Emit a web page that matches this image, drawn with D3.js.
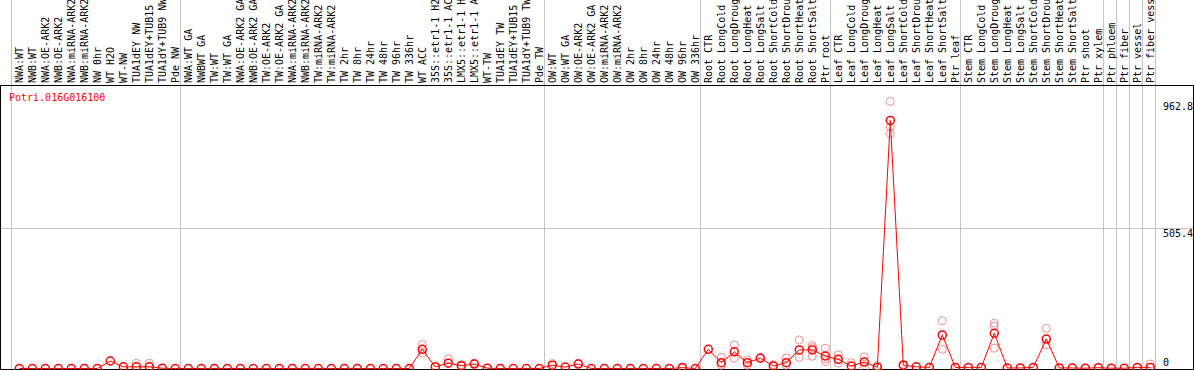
<!DOCTYPE html>
<html>
<head>
<meta charset="utf-8">
<script src="https://cdn.jsdelivr.net/npm/d3@7"></script>
<style>
  body { margin: 0; background: #fff; }
  svg text { font-family: "DejaVu Sans Mono", monospace; font-size: 10px; }
</style>
</head>
<body>
<div id="chart"></div>
<script>
var width = 1194, height = 370;

var geneName = "Potri.016G016100";

var samples = [
  "NWA:WT", "NWB:WT", "NWA:OE-ARK2", "NWB:OE-ARK2", "NWA:miRNA-ARK2", "NWB:miRNA-ARK2",
  "NW 0hr", "WT H2O", "WT-NW", "TUA1dEY NW", "TUA1dEY+TUB15 NW", "TUA1dY+TUB9 NW", "Pde NW",
  "NWA:WT GA", "NWBWT GA", "TW:WT", "TW:WT GA", "NWA:OE-ARK2 GA", "NWB:OE-ARK2 GA",
  "TW:OE-ARK2", "TW:OE-ARK2 GA", "NWA:miRNA-ARK2", "NWB:miRNA-ARK2", "TW:miRNA-ARK2", "TW:miRNA-ARK2",
  "TW 2hr", "TW 8hr", "TW 24hr", "TW 48hr", "TW 96hr", "TW 336hr", "WT ACC",
  "35S::etr1-1 H2O", "35S::etr1-1 ACC", "LMX5::etr1-1 H2O", "LMX5::etr1-1 ACC",
  "WT-TW", "TUA1dEY TW", "TUA1dEY+TUB15 TW", "TUA1dY+TUB9 TW", "Pde TW",
  "OW:WT", "OW:WT GA", "OW:OE-ARK2", "OW:OE-ARK2 GA", "OW:miRNA-ARK2", "OW:miRNA-ARK2",
  "OW 2hr", "OW 8hr", "OW 24hr", "OW 48hr", "OW 96hr", "OW 336hr",
  "Root CTR", "Root LongCold", "Root LongDrought", "Root LongHeat", "Root LongSalt",
  "Root ShortCold", "Root ShortDrought", "Root ShortHeat", "Root ShortSalt", "Ptr root",
  "Leaf CTR", "Leaf LongCold", "Leaf LongDrought", "Leaf LongHeat", "Leaf LongSalt",
  "Leaf ShortCold", "Leaf ShortDrought", "Leaf ShortHeat", "Leaf ShortSalt", "Ptr leaf",
  "Stem CTR", "Stem LongCold", "Stem LongDrought", "Stem LongHeat", "Stem LongSalt",
  "Stem ShortCold", "Stem ShortDrought", "Stem ShortHeat", "Stem ShortSalt", "Ptr shoot",
  "Ptr xylem", "Ptr phloem", "Ptr fiber", "Ptr vessel", "Ptr fiber vessel"
];

// mean expression per sample
var means = [
  0, 0, 0, 0, 0, 0, 0, 27, 6, 6, 6, 1, 0,
  0, 0, 0, 0, 0, 0, 0, 0, 0, 0, 0, 0, 0, 0, 0, 0, 0, 0, 69, 6, 19, 10, 16, 1, 0, 0, 0, 0,
  12, 5, 16, 0, 0, 0, 0, 0, 0, 0, 3, 0,
  69, 21, 60, 21, 37, 9, 21, 67, 67, 45,
  33, 9, 23, 4, 894, 12, 6, 4, 121, 4,
  4, 4, 127, 2, 2, 4, 106, 2, 2, 1,
  3, 1, 1, 4, 4
];

// replicates that sit away from the mean: [sample index, values]
var replicates = [
  [9, [19]], [10, [19]], [31, [87, 55]], [33, [35]], [34, [14]], [35, [19]],
  [41, [18]], [43, [19]], [51, [6]],
  [54, [40, 12]], [55, [85, 37]], [56, [30, 12]], [57, [40]], [58, [14]], [59, [38, 12]],
  [60, [103, 40]], [61, [82, 75, 44]], [62, [73, 35, 25]],
  [63, [49, 19]], [64, [21]], [65, [42, 4]], [66, [10]], [67, [962.8, 871, 847]], [68, [15]],
  [71, [172, 69]], [75, [163, 153, 73]], [79, [145, 85]], [87, [16]]
];

var yTicks = [0, 505.4, 962.8];

// last sample of each group (a vertical rule sits right of it)
var groupEnds = [-1, 12, 40, 52, 62, 72, 83, 84, 85, 86, 87];

var svg = d3.select("#chart").append("svg")
    .attr("width", width)
    .attr("height", height);

var x = d3.scaleLinear()
    .domain([0, samples.length - 1])
    .range([19.3, 1150.3]);

var yMax = d3.max(replicates, d => d3.max(d[1]));
var y = d3.scaleLinear()
    .domain([0, yMax * 1.05])
    .range([368.5, 88]);

// vertical group rules
svg.selectAll("line.vgrid")
    .data(groupEnds)
    .enter()
    .append("line")
    .attr("class", "vgrid")
    .attr("x1", d => Math.round(x(d) + 5) + 0.5)
    .attr("x2", d => Math.round(x(d) + 5) + 0.5)
    .attr("y1", 0)
    .attr("y2", height)
    .style("stroke", "#c4c4c4");

// middle horizontal rule
svg.append("line")
    .attr("x1", 0).attr("x2", 1193)
    .attr("y1", Math.round(y(yTicks[1])) + 0.5)
    .attr("y2", Math.round(y(yTicks[1])) + 0.5)
    .style("stroke", "#c4c4c4");

// frame
svg.append("line").attr("x1", 0).attr("x2", width).attr("y1", 85.5).attr("y2", 85.5).style("stroke", "#000");
svg.append("line").attr("x1", 0).attr("x2", width).attr("y1", 369.5).attr("y2", 369.5).style("stroke", "#000");
svg.append("line").attr("x1", 0.5).attr("x2", 0.5).attr("y1", 85).attr("y2", height).style("stroke", "#000");
svg.append("line").attr("x1", 1193.5).attr("x2", 1193.5).attr("y1", 85).attr("y2", height).style("stroke", "#000");

// sample names, rotated and cut to 14 characters
svg.selectAll("text.sample")
    .data(samples)
    .enter()
    .append("text")
    .attr("class", "sample")
    .attr("transform", (d, i) => `translate(${x(i) + 3.5}, 83) rotate(-90)`)
    .style("fill", "#000")
    .text(d => d.slice(0, 14));

svg.append("text")
    .attr("x", 9)
    .attr("y", 101)
    .style("fill", "#ff0000")
    .text(geneName);

// right-hand value labels
svg.selectAll("text.ytick")
    .data(yTicks)
    .enter()
    .append("text")
    .attr("class", "ytick")
    .attr("x", 1163)
    .attr("y", d => d == 0 ? y(0) - 3 : y(d) + 9)
    .style("fill", "#000")
    .text(d => d);

// replicate circles
var repFlat = [];
replicates.forEach(r => r[1].forEach(v => repFlat.push({ i: r[0], v: v })));

svg.selectAll("circle.rep")
    .data(repFlat)
    .enter()
    .append("circle")
    .attr("class", "rep")
    .attr("cx", d => x(d.i))
    .attr("cy", d => y(d.v))
    .attr("r", 4)
    .style("fill", "none")
    .style("stroke", "#f08c8c");

var line = d3.line()
    .x((d, i) => x(i))
    .y(d => y(d));

svg.append("path")
    .datum(means)
    .attr("d", line)
    .style("fill", "none")
    .style("stroke", "#ff0000");

svg.selectAll("circle.mean")
    .data(means)
    .enter()
    .append("circle")
    .attr("class", "mean")
    .attr("cx", (d, i) => x(i))
    .attr("cy", d => y(d))
    .attr("r", 4)
    .style("fill", "none")
    .style("stroke", "#ff0000")
    .style("stroke-width", 1.5);
</script>
</body>
</html>
